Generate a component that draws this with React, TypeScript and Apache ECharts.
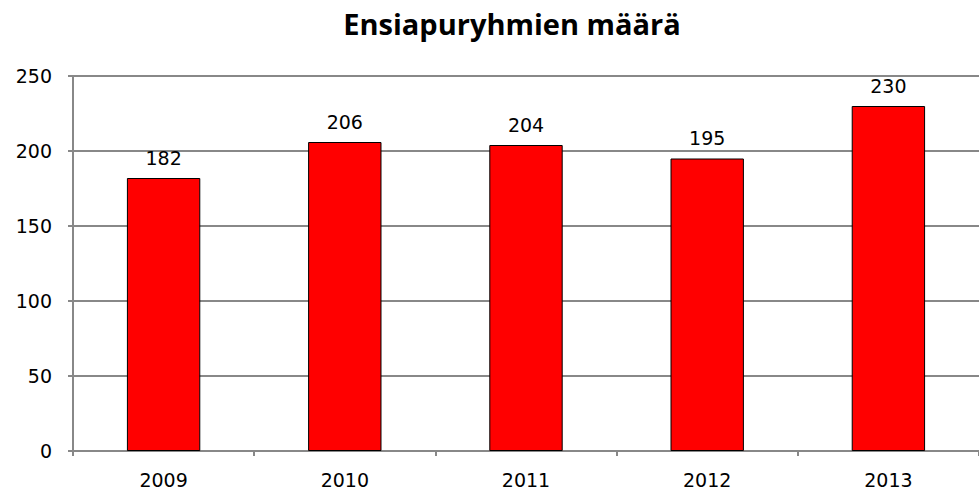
import React, { useEffect, useRef } from "react";
import * as echarts from "echarts";

const categories = ["2009", "2010", "2011", "2012", "2013"];
const values = [182, 206, 204, 195, 230];
const titleText = "Ensiapuryhmien määrä";

export default function App() {
  const ref = useRef<HTMLDivElement>(null);
  useEffect(() => {
    const chart = echarts.init(ref.current!, null, { renderer: "svg" });
    chart.setOption({
      animation: false,
      backgroundColor: "#ffffff",
      title: {
        text: titleText,
        left: 507,
        textAlign: "center",
        top: 4,
        textStyle: {
          fontFamily: "Open Sans",
          fontWeight: "bold",
          fontSize: 29,
          color: "#000",
        },
      },
      grid: { left: 73, top: 76, width: 918, height: 375, containLabel: false },
      xAxis: {
        type: "category",
        data: categories,
        axisLine: { lineStyle: { color: "#888", width: 2 } },
        axisTick: { show: true, length: 5, lineStyle: { color: "#888", width: 2 } },
        axisLabel: { fontFamily: "DejaVu Sans", fontSize: 19, color: "#000", margin: 19 },
      },
      yAxis: {
        type: "value",
        min: 0,
        max: 250,
        interval: 50,
        axisLine: { show: true, lineStyle: { color: "#888", width: 2 } },
        axisTick: { show: true, length: 5, lineStyle: { color: "#888", width: 2 } },
        splitLine: { lineStyle: { color: "#888", width: 2 } },
        axisLabel: { fontFamily: "DejaVu Sans", fontSize: 19, color: "#000", margin: 21 },
      },
      series: [
        {
          type: "bar",
          data: values,
          barWidth: "40.5%",
          itemStyle: { color: "#ff0000", borderColor: "#000", borderWidth: 1 },
          label: {
            show: true,
            position: "top",
            distance: 11,
            fontFamily: "DejaVu Sans",
            fontSize: 19,
            color: "#000",
          },
        },
      ],
    });
    return () => chart.dispose();
  }, []);
  return <div ref={ref} style={{ width: 979, height: 490, position: "absolute", left: 0, top: 0 }} />;
}
